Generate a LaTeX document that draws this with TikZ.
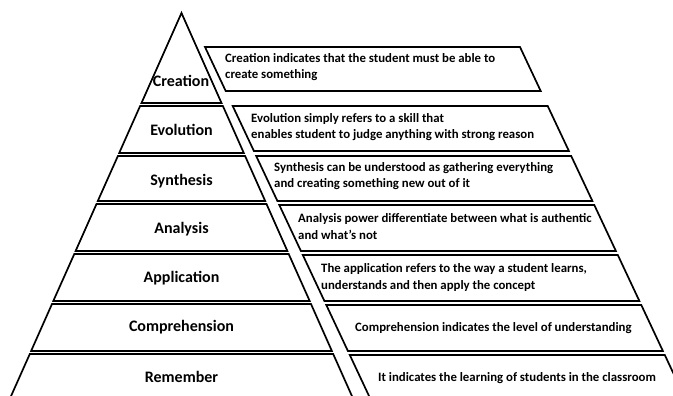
\documentclass[tikz,border=0pt]{standalone}
\usepackage{fontspec}
\setmainfont{Carlito}
\begin{document}
\begin{tikzpicture}[x=1pt,y=-1pt,
  band/.style={draw=black,line width=1.7pt,fill=white,line join=miter},
  plabel/.style={font=\bfseries\fontsize{16}{18}\selectfont,inner sep=0pt},
  btext/.style={font=\bfseries\fontsize{12.8}{16.5}\selectfont,align=left,anchor=west,inner sep=0pt}]
\useasboundingbox (0,0) rectangle (673,396);
\clip (0,0) rectangle (673,396);
% pyramid: L(y)=181.5-0.445(y-13), R(y)=181.5+0.445(y-13)
\draw[band] (181.5,13) -- (221.5,103) -- (141.5,103) -- cycle;
\draw[band] (140.1,106) -- (222.9,106) -- (243.8,153) -- (119.2,153) -- cycle;
\draw[band] (117.9,156) -- (245.1,156) -- (265.2,201) -- (97.8,201) -- cycle;
\draw[band] (96.5,204) -- (266.5,204) -- (287.4,251) -- (75.6,251) -- cycle;
\draw[band] (74.3,254) -- (288.7,254) -- (309.7,301) -- (53.3,301) -- cycle;
\draw[band] (52.0,304) -- (311.0,304) -- (331.9,351) -- (31.1,351) -- cycle;
\draw[band] (9.3,400) -- (29.8,354) -- (333.2,354) -- (353.7,400);
% right boxes: left(y)=205+0.47(y-47), width 315
\draw[band] (205,47) -- (520,47) -- (540.7,91) -- (225.7,91) -- cycle;
\draw[band] (232.7,106) -- (547.7,106) -- (568.9,151) -- (253.9,151) -- cycle;
\draw[band] (256.2,156) -- (571.2,156) -- (592.4,201) -- (277.4,201) -- cycle;
\draw[band] (279.3,205) -- (594.3,205) -- (615.9,251) -- (300.9,251) -- cycle;
\draw[band] (302.8,255) -- (617.8,255) -- (639.4,301) -- (324.4,301) -- cycle;
\draw[band] (326.3,305) -- (641.3,305) -- (662.9,351) -- (347.9,351) -- cycle;
\draw[band] (370.9,400) -- (349.8,355) -- (664.8,355) -- (685.9,400);
% pyramid labels
\node[plabel] (creation) at (181,81) {Creation};
\node[plabel] (evolution) at (181.5,130) {Evolution};
\node[plabel] (synthesis) at (181.5,181) {Synthesis};
\node[plabel] (analysis) at (181.5,229) {Analysis};
\node[plabel] (application) at (181.5,278) {Application};
\node[plabel] (comprehension) at (181.5,327) {Comprehension};
\node[plabel] (remember) at (181.5,377) {Remember};
% descriptions
\node[btext] (tcreation) at (225,67) {Creation indicates that the student must be able to\\create something};
\node[btext] (tevolution) at (251,127) {Evolution simply refers to a skill that\\enables student to judge anything with strong reason};
\node[btext] (tsynthesis) at (274,176) {Synthesis can be understood as gathering everything\\and creating something new out of it};
\node[btext] (tanalysis) at (298,226.5) {Analysis power differentiate between what is authentic\\and what’s not};
\node[btext] (tapplication) at (321,277.5) {The application refers to the way a student learns,\\understands and then apply the concept};
\node[btext] (tcomprehension) at (355,328) {Comprehension indicates the level of understanding};
\node[btext] (tremember) at (378,378) {It indicates the learning of students in the classroom};
\end{tikzpicture}
\end{document}
